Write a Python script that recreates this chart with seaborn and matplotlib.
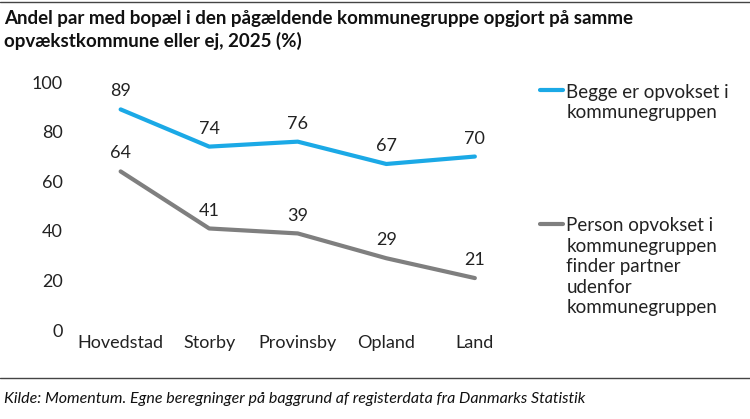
import matplotlib
matplotlib.use("Agg")
import matplotlib.pyplot as plt
import seaborn as sns
import pandas as pd

categories = ["Hovedstad", "Storby", "Provinsby", "Opland", "Land"]
begge = [89, 74, 76, 67, 70]
person = [64, 41, 39, 29, 21]
series_names = ["Begge er opvokset i\nkommunegruppen",
                "Person opvokset i\nkommunegruppen\nfinder partner\nudenfor\nkommunegruppen"]

sns.set_theme(style="white")
plt.rcParams['font.family'] = ['Lato', 'DejaVu Sans']

df = pd.DataFrame({"cat": categories * 2, "val": begge + person,
                   "serie": [series_names[0]] * 5 + [series_names[1]] * 5})

fig = plt.figure(figsize=(7.5, 4.19), dpi=100)
ax = fig.add_axes([0.09, 0.212, 0.614, 0.592])
colors = ["#1BA9E6", "#7F7F7F"]
sns.lineplot(data=df, x="cat", y="val", hue="serie", palette=colors, lw=3,
             sort=False, ax=ax, legend=False)
for vals in (begge, person):
    for i, v in enumerate(vals):
        ax.text(i, v + 4, str(v), ha="center", va="bottom", fontsize=13, color="#222222")
ax.set_xlim(-0.6, 4.6)
ax.set_ylim(0, 100)
ax.set_yticks(range(0, 101, 20))
ax.set_xlabel(""); ax.set_ylabel("")
ax.tick_params(labelsize=13, length=0, colors="#222222")
for s in ax.spines.values():
    s.set_visible(False)

fig.text(0.755, 0.80, series_names[0], fontsize=13.5, va="top", color="#222222", linespacing=1.25)
fig.text(0.755, 0.482, series_names[1], fontsize=13.5, va="top", color="#222222", linespacing=1.25)
fig.add_artist(plt.Line2D([0.72, 0.75], [0.785, 0.785], color=colors[0], lw=3))
fig.add_artist(plt.Line2D([0.72, 0.75], [0.465, 0.465], color=colors[1], lw=3))

fig.text(0.005, 0.975, "Andel par med bopæl i den pågældende kommunegruppe opgjort på samme\nopvækstkommune eller ej, 2025 (%)",
         fontsize=13.5, fontweight="bold", va="top", ha="left", color="#111111", linespacing=1.3)
fig.text(0.005, 0.03, "Kilde: Momentum. Egne beregninger på baggrund af registerdata fra Danmarks Statistik",
         fontsize=11.5, style="italic", va="bottom", color="#111111")
fig.add_artist(plt.Line2D([0, 1], [0.995, 0.995], color="#444444", lw=1))
fig.add_artist(plt.Line2D([0, 1], [0.098, 0.098], color="#444444", lw=1))
fig.savefig("out.png", dpi=100)
